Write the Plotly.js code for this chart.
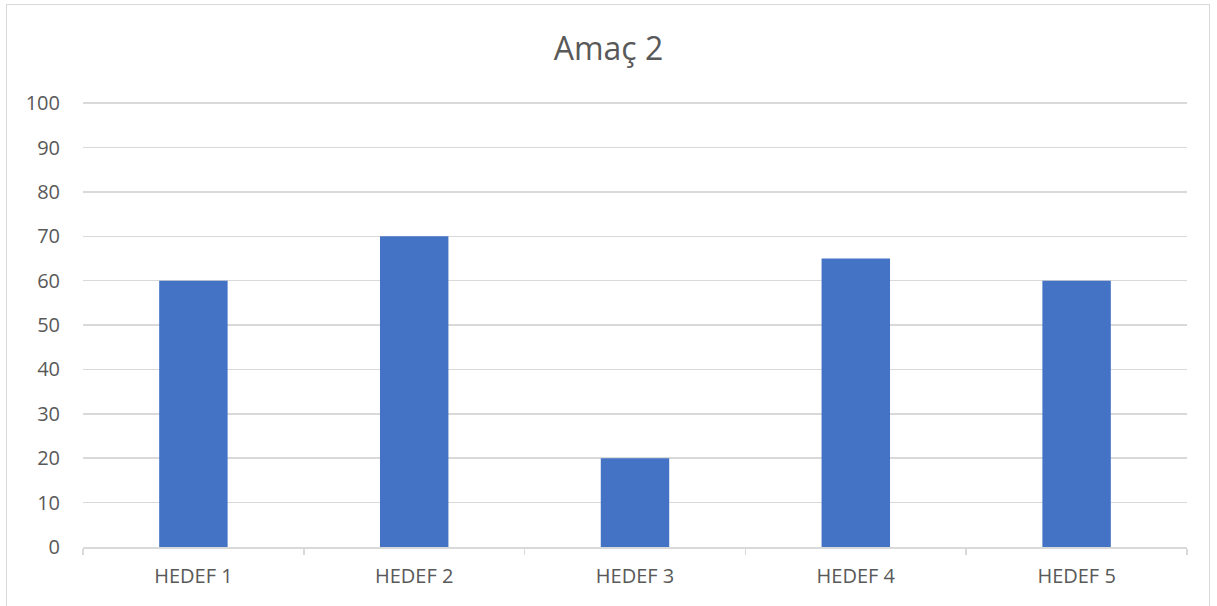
<!DOCTYPE html>
<html>
<head>
<meta charset="utf-8">
<script src="https://cdn.plot.ly/plotly-3.0.1.min.js"></script>
<style>
html,body{margin:0;padding:0;background:#fff;overflow:hidden;}
#frame{position:absolute;left:6px;top:4px;width:1204px;height:620px;border:1.5px solid #d9d9d9;box-sizing:border-box;}
#chart{position:absolute;left:0;top:0;width:1217px;height:606px;}
</style>
</head>
<body>
<div id="frame"></div>
<div id="chart"></div>
<script>
const categories = ["HEDEF 1", "HEDEF 2", "HEDEF 3", "HEDEF 4", "HEDEF 5"];
const values = [60, 70, 20, 65, 60];
const yTicks = [0, 10, 20, 30, 40, 50, 60, 70, 80, 90, 100];
const chartTitle = "Amaç 2";

const font = "Open Sans, Noto Sans, sans-serif";
Plotly.newPlot("chart", [{
  type: "bar",
  x: categories,
  y: values,
  marker: {color: "#4472C4"},
  hoverinfo: "x+y"
}], {
  width: 1217, height: 606,
  paper_bgcolor: "rgba(0,0,0,0)",
  plot_bgcolor: "rgba(0,0,0,0)",
  margin: {l: 83, r: 30, t: 102, b: 59},
  bargap: 0.69,
  showlegend: false,
  title: {text: chartTitle, x: 0.5, xanchor: "center", y: 0.92, yanchor: "middle",
          font: {family: font, size: 32, color: "#595959"}},
  xaxis: {
    type: "category",
    showline: true, linecolor: "#d9d9d9", linewidth: 1.5,
    ticks: "outside", tickson: "boundaries", ticklen: 6, tickcolor: "#d9d9d9", tickwidth: 1.5,
    showgrid: false,
    ticklabelstandoff: 10,
    tickfont: {family: font, size: 20, color: "#595959"}
  },
  yaxis: {
    range: [0, 100.25], tickvals: yTicks, ticktext: yTicks.map(String),
    showgrid: true, gridcolor: "#d9d9d9", gridwidth: 1.5,
    zeroline: false, showline: false, ticks: "",
    ticklabelstandoff: 22,
    tickfont: {family: font, size: 20, color: "#595959"}
  }
}, {displayModeBar: false, staticPlot: true});
</script>
</body>
</html>
